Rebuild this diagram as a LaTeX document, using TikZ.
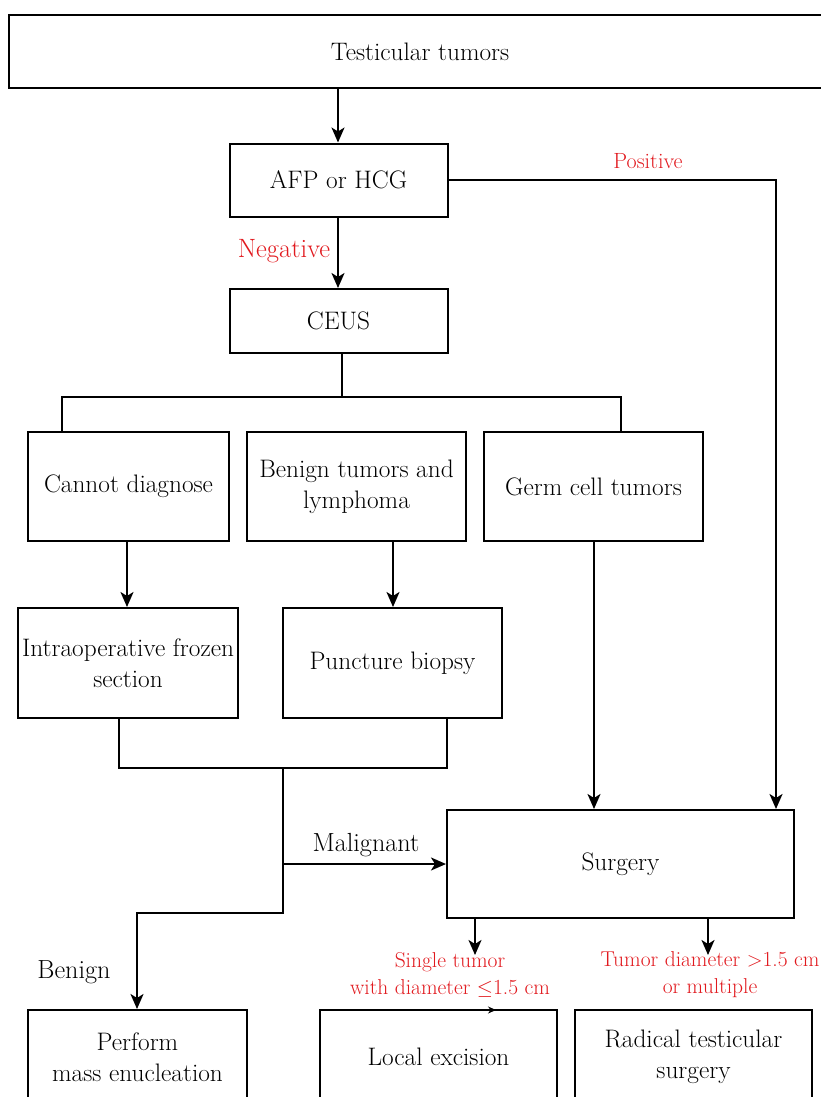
\documentclass[tikz,border=0pt]{standalone}
\usepackage{fontspec}
\usetikzlibrary{arrows.meta}
\definecolor{lab}{RGB}{225,25,30}
\begin{document}
\begin{tikzpicture}[x=1pt,y=-1pt,
  box/.style={draw,line width=2pt,inner sep=0pt,align=center,font=\fontsize{25.3}{31}\selectfont},
  conn/.style={line width=2pt},
  arr/.style={conn,-{Stealth[length=15pt,width=13pt,inset=4pt]}},
  redlab/.style={text=lab,font=\fontsize{21.5}{27}\selectfont,align=center,inner sep=0pt},
  blab/.style={font=\fontsize{26.2}{31}\selectfont,inner sep=0pt}]
\useasboundingbox (0,0) rectangle (821,1097);
\clip (0,0) rectangle (821,1097);
% boxes
\node[box,minimum width=822pt,minimum height=73pt] (top) at (420,51.5) {Testicular tumors};
\node[box,minimum width=218pt,minimum height=73pt] (afp) at (338.5,180) {AFP or HCG};
\node[box,minimum width=218pt,minimum height=64pt] (ceus) at (338.5,321) {CEUS};
\node[box,minimum width=201pt,minimum height=109pt] (cannot) at (128.5,486.5) {Cannot diagnose};
\node[box,minimum width=219pt,minimum height=109pt] (benign) at (356.5,486.5) {Benign tumors and\\lymphoma};
\node[box,minimum width=219pt,minimum height=109pt] (germ) at (593.5,486.5) {Germ cell tumors};
\node[box,minimum width=220pt,minimum height=110pt] (frozen) at (128,663) {Intraoperative frozen\\section};
\node[box,minimum width=219pt,minimum height=110pt] (puncture) at (392.5,663) {Puncture biopsy};
\node[box,minimum width=347pt,minimum height=108pt] (surgery) at (620.5,864) {Surgery};
\node[box,minimum width=219pt,minimum height=94pt] (enuc) at (137.5,1057) {Perform\\mass enucleation};
\node[box,minimum width=237pt,minimum height=94pt] (local) at (438.5,1057) {Local excision};
\node[box,minimum width=237pt,minimum height=94pt] (radical) at (693.5,1057) {Radical testicular\\surgery};
% helper coordinates
\coordinate (pc) at (776,180);
\coordinate (split) at (342,397);
\coordinate (L) at (62,397);
\coordinate (R) at (621,397);
\coordinate (c1) at (127,0);
\coordinate (c2) at (393,0);
\coordinate (c3) at (594,0);
\coordinate (c0) at (338,0);
\coordinate (jl) at (119,768);
\coordinate (jr) at (447,768);
\coordinate (jm) at (283,768);
\coordinate (jb) at (283,913);
\coordinate (c4) at (137,0);
\coordinate (s1) at (475,955);
\coordinate (s2) at (708,955);
\coordinate (t1) at (482,1010);
\coordinate (t2) at (496,1010);
% connectors
\draw[arr] (c0 |- top.south) -- (c0 |- afp.north);
\draw[arr] (afp.east) -- (afp.east -| pc) -- (pc |- surgery.north);
\draw[arr] (c0 |- afp.south) -- (c0 |- ceus.north);
\draw[conn] (split |- ceus.south) -- (split);
\draw[conn] (cannot.north -| L) -- (L) -- (R) -- (germ.north -| R);
\draw[arr] (c1 |- cannot.south) -- (c1 |- frozen.north);
\draw[arr] (c2 |- benign.south) -- (c2 |- puncture.north);
\draw[arr] (c3 |- germ.south) -- (c3 |- surgery.north);
\draw[conn] (jl |- frozen.south) -- (jl) -- (jr) -- (jr |- puncture.south);
\draw[arr] (jm) -- (jb) -- (jb -| c4) -- (c4 |- enuc.north);
\draw[arr] (jm |- surgery.west) -- (surgery.west);
\draw[arr] (s1 |- surgery.south) -- (s1);
\draw[arr] (s2 |- surgery.south) -- (s2);
\draw[line width=1pt,-{Stealth[length=8pt,width=7pt]}] (t1) -- (t2);
% labels
\node[redlab,font=\fontsize{22}{27}\selectfont] (lpos) at (648,161) {Positive};
\node[redlab,font=\fontsize{26.5}{30}\selectfont] (lneg) at (284,251) {Negative};
\node[blab] (lmal) at (366,845) {Malignant};
\node[blab] (lben) at (74,972) {Benign};
\node[redlab] (lsingle) at (450,975) {Single tumor\\with diameter $\leq$1.5 cm};
\node[redlab] (lmulti) at (710,975) {Tumor diameter $>$1.5 cm\\or multiple};
\end{tikzpicture}
\end{document}
